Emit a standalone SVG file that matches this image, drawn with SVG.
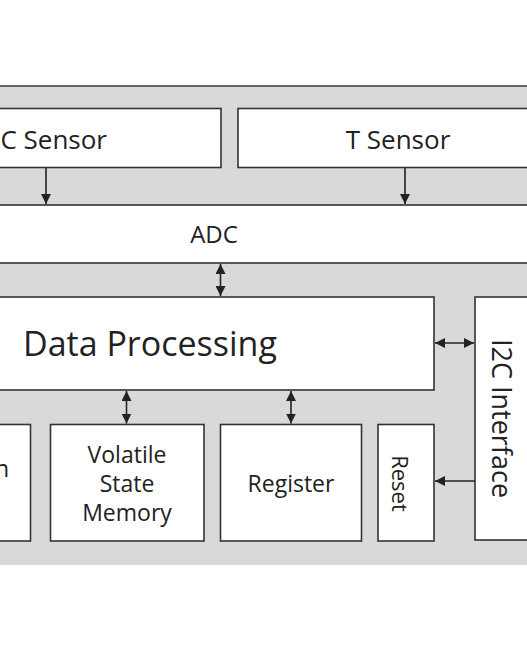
<svg xmlns="http://www.w3.org/2000/svg" width="527" height="650" viewBox="0 0 527 650">
<style>
.box{fill:#fff;stroke:#333;stroke-width:1.6}
.t{font-family:"Open Sans","Noto Sans","DejaVu Sans",sans-serif;fill:#222;text-anchor:middle}
.c{stroke:#222;stroke-width:1.6;fill:none}
</style>
<defs>
<marker id="ah" markerUnits="userSpaceOnUse" markerWidth="12" markerHeight="10" refX="10" refY="5" orient="auto-start-reverse">
<path d="M0,0 L10,5 L0,10 Z" fill="#222"/>
</marker>
</defs>
<rect width="527" height="650" fill="#fff"/>
<g id="background">
<rect x="-10" y="86" width="547" height="479" fill="#d9d9d9"/>
<line x1="0" y1="86" x2="527" y2="86" stroke="#666" stroke-width="2"/>
</g>
<g id="c-sensor">
<rect class="box" x="-20" y="108.5" width="241" height="59"/>
<text class="t" x="107" y="149" font-size="26" text-anchor="end" style="text-anchor:end">C Sensor</text>
</g>
<g id="t-sensor">
<rect class="box" x="238" y="108.5" width="310" height="59"/>
<text class="t" x="398" y="149" font-size="26">T Sensor</text>
</g>
<g id="adc">
<rect class="box" x="-20" y="205" width="567" height="58"/>
<text class="t" x="214" y="243" font-size="24">ADC</text>
</g>
<g id="data-processing">
<rect class="box" x="-20" y="297" width="454" height="93"/>
<text class="t" x="23" y="356" font-size="34" style="text-anchor:start">Data Processing</text>
</g>
<g id="i2c-interface">
<rect class="box" x="475" y="297" width="70" height="243"/>
<text class="t" font-size="27" transform="translate(492,418.5) rotate(90)">I2C Interface</text>
</g>
<g id="left-box">
<rect class="box" x="-20" y="424.5" width="50.5" height="116.5"/>
<text class="t" x="9" y="477" font-size="23" style="text-anchor:end">n</text>
</g>
<g id="volatile-state-memory">
<rect class="box" x="50.5" y="424.5" width="153.5" height="116.5"/>
<text class="t" x="127" y="463" font-size="23">Volatile</text>
<text class="t" x="127" y="492" font-size="23">State</text>
<text class="t" x="127" y="521" font-size="23">Memory</text>
</g>
<g id="register">
<rect class="box" x="220.5" y="424.5" width="141" height="116.5"/>
<text class="t" x="291" y="492" font-size="23">Register</text>
</g>
<g id="reset">
<rect class="box" x="378" y="424.5" width="56" height="116.5"/>
<text class="t" font-size="22" transform="translate(391.5,483.5) rotate(90)">Reset</text>
</g>
<g id="connectors">
<line class="c" x1="46" y1="167.5" x2="46" y2="204" marker-end="url(#ah)"/>
<line class="c" x1="405" y1="167.5" x2="405" y2="204" marker-end="url(#ah)"/>
<line class="c" x1="220.5" y1="264" x2="220.5" y2="296" marker-start="url(#ah)" marker-end="url(#ah)"/>
<line class="c" x1="435" y1="343" x2="474" y2="343" marker-start="url(#ah)" marker-end="url(#ah)"/>
<line class="c" x1="126.5" y1="391" x2="126.5" y2="423.5" marker-start="url(#ah)" marker-end="url(#ah)"/>
<line class="c" x1="291" y1="391" x2="291" y2="423.5" marker-start="url(#ah)" marker-end="url(#ah)"/>
<line class="c" x1="475" y1="481" x2="435" y2="481" marker-end="url(#ah)"/>
</g>
</svg>
